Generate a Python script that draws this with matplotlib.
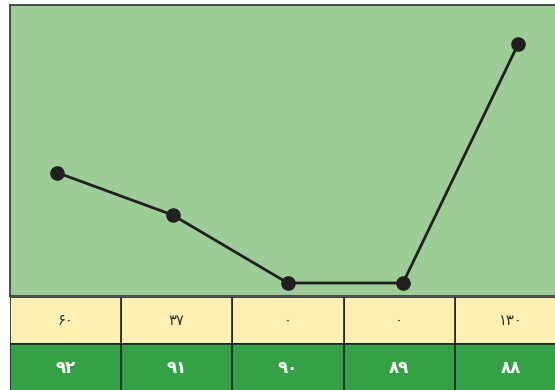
import matplotlib
matplotlib.use("Agg")
import matplotlib.pyplot as plt

# years (Persian calendar, short form), shown right to left
years = ['۸۸', '۸۹', '۹۰', '۹۱', '۹۲']
values = [130, 0, 0, 37, 60]
value_labels = ['۱۳۰', '۰', '۰', '۳۷', '۶۰']

PLOT_BG = '#9ccd96'
ROW_VAL = '#fef0b3'
ROW_YEAR = '#34a146'

W, H = 555, 390
fig = plt.figure(figsize=(W / 100, H / 100), dpi=100)

n = len(years)
# column index from the left: last year is leftmost
pos = [n - 1 - i for i in range(n)]

# line chart area
ax = fig.add_axes([10 / W, (H - 296) / H, 556 / W, 291 / H])
ax.set_facecolor(PLOT_BG)
ax.plot(pos, values, color='#231f20', lw=2, marker='o', ms=9.5, zorder=3)
ax.set_xlim(-0.411, 4.415)
ax.set_ylim(-7.07, 151.2)
ax.set_xticks([])
ax.set_yticks([])
for s in ax.spines.values():
    s.set_color('#333333')
    s.set_linewidth(1.2)

# table under the chart
tab = fig.add_axes([10 / W, 0, 556 / W, (H - 297) / H])
tab.bar(pos, 1, width=1, bottom=1, color=ROW_VAL, edgecolor='#222222', lw=1.2)
tab.bar(pos, 1, width=1, bottom=0, color=ROW_YEAR, edgecolor='#222222', lw=1.2)
for p, v, y in zip(pos, value_labels, years):
    tab.text(p, 1.5, v, ha='center', va='center', fontsize=10.5,
             color='#333333', family='DejaVu Sans')
    tab.text(p, 0.5, y, ha='center', va='center', fontsize=12,
             color='white', fontweight='bold', family='DejaVu Sans')
tab.set_xlim(-0.5, 4.5)
tab.set_ylim(0.03, 2)
tab.axis('off')

fig.savefig('out.png', dpi=100)
